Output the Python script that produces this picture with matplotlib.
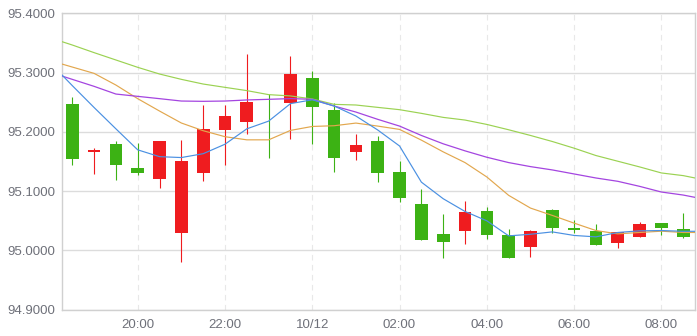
# Script: plot.py
# Half-hour candlestick chart with four moving average lines.

import matplotlib
matplotlib.use('Agg')
import matplotlib.pyplot as plt
import numpy as np

# Candle data, 18:30 to 08:30 (30 min bars)
opens = [95.2475, 95.1655, 95.1802, 95.1396, 95.1198, 95.0283, 95.1299, 95.2028,
         95.2164, 95.2300, 95.2486, 95.2904, 95.2362, 95.1655, 95.1836, 95.1328,
         95.0785, 95.0277, 95.0333, 95.0667, 95.0260, 95.0062, 95.0684, 95.0379,
         95.0328, 95.0130, 95.0232, 95.0463, 95.0362]
closes = [95.1537, 95.1684, 95.1435, 95.1299, 95.1836, 95.1514, 95.2040, 95.2260,
          95.2497, 95.2300, 95.2972, 95.2418, 95.1554, 95.1785, 95.1299, 95.0876,
          95.0181, 95.0147, 95.0650, 95.0266, 94.9876, 95.0328, 95.0384, 95.0350,
          95.0096, 95.0311, 95.0446, 95.0384, 95.0232]
highs = [95.2582, 95.1734, 95.1847, 95.1819, 95.1836, 95.1853, 95.2446, 95.2446,
         95.3311, 95.2633, 95.3277, 95.3023, 95.2492, 95.1955, 95.1921, 95.1514,
         95.1034, 95.0616, 95.0836, 95.0734, 95.0362, 95.0350, 95.0701, 95.0514,
         95.0446, 95.0311, 95.0480, 95.0463, 95.0633]
lows = [95.1435, 95.1282, 95.1181, 95.1266, 95.1045, 94.9808, 95.1164, 95.1435,
        95.1966, 95.1554, 95.1876, 95.1791, 95.1316, 95.1531, 95.1158, 95.0808,
        95.0181, 94.9876, 95.0113, 95.0198, 94.9876, 94.9893, 95.0288, 95.0299,
        95.0096, 95.0045, 95.0232, 95.0266, 95.0209]

# Moving averages, 18:00 to 09:00 (one bar either side of the visible window)
ma_blue = [95.316, 95.278, 95.241, 95.205, 95.1695, 95.158, 95.1565, 95.163, 95.179,
           95.205, 95.218, 95.2475, 95.254, 95.2435, 95.2266, 95.203, 95.176, 95.115,
           95.087, 95.0655, 95.0497, 95.0243, 95.027, 95.031, 95.025, 95.0226, 95.030,
           95.0328, 95.0333, 95.032, 95.032]
ma_purple = [95.3004, 95.2885, 95.2767, 95.2637, 95.2598, 95.2559, 95.2519, 95.2514,
             95.2519, 95.2537, 95.2548, 95.256, 95.2548, 95.2435, 95.2333, 95.221,
             95.2096, 95.1938, 95.1797, 95.1678, 95.157, 95.148, 95.1412, 95.1356,
             95.1288, 95.122, 95.1164, 95.1079, 95.0983, 95.0932, 95.086]
ma_orange = [95.320, 95.3093, 95.2986, 95.2789, 95.2559, 95.235, 95.2148, 95.2018,
             95.1917, 95.1864, 95.1864, 95.2023, 95.209, 95.2102, 95.2147, 95.2096,
             95.204, 95.1859, 95.1661, 95.148, 95.1237, 95.0927, 95.0712, 95.0588,
             95.0458, 95.0333, 95.0277, 95.030, 95.0322, 95.030, 95.030]
ma_green = [95.3584, 95.3465, 95.3336, 95.3212, 95.3088, 95.2975, 95.2885, 95.2806,
            95.275, 95.2695, 95.2627, 95.2605, 95.2554, 95.2463, 95.2452, 95.2412,
            95.2373, 95.2311, 95.2243, 95.2198, 95.2124, 95.2034, 95.1938, 95.1836,
            95.1723, 95.1599, 95.1503, 95.1407, 95.1305, 95.126, 95.1186]

tick_pos = [3, 7, 11, 15, 19, 23, 27]
tick_labels = ['20:00', '22:00', '10/12', '02:00', '04:00', '06:00', '08:00']
y_ticks = [94.9, 95.0, 95.1, 95.2, 95.3, 95.4]

up_color = '#ef1c1f'
down_color = '#3cb214'
grid_color = '#dcdcdc'
label_color = '#6e7079'

plt.rcParams['font.family'] = ['Liberation Sans', 'DejaVu Sans']

fig = plt.figure(figsize=(6.97, 3.36), dpi=100)
ax = fig.add_axes([62 / 697, 26.5 / 336, 633 / 697, 296.2 / 336])

x = np.arange(len(opens))

# Candle colours: red up, green down, ties use previous close
colors = []
for i in range(len(opens)):
    if closes[i] > opens[i]:
        colors.append(up_color)
    elif closes[i] < opens[i]:
        colors.append(down_color)
    elif i > 0 and closes[i] >= closes[i - 1]:
        colors.append(up_color)
    else:
        colors.append(down_color)

bottoms = np.minimum(opens, closes)
heights = np.abs(np.array(closes) - np.array(opens))

ax.vlines(x, lows, highs, colors=colors, linewidth=0.8, zorder=3)
ax.bar(x, heights, bottom=bottoms, width=0.58, color=colors, linewidth=0, zorder=4)

# MA lines
xm = np.arange(-1, len(ma_blue) - 1)
ax.plot(xm, ma_green, color='#9bd252', linewidth=0.85, zorder=5)
ax.plot(xm, ma_orange, color='#e2a74e', linewidth=0.85, zorder=5)
ax.plot(xm, ma_purple, color='#a445e0', linewidth=0.9, zorder=5)
ax.plot(xm, ma_blue, color='#4a90e2', linewidth=0.85, zorder=5)

ax.set_xlim(-0.47, 28.54)
ax.set_ylim(94.9, 95.4)

ax.set_yticks(y_ticks)
ax.set_yticklabels([f'{v:.4f}' for v in y_ticks])
ax.set_xticks(tick_pos)
ax.set_xticklabels(tick_labels)

ax.yaxis.grid(True, color=grid_color, linewidth=1.0, zorder=0)
for p in tick_pos:
    ax.axvline(p, color='#e8e8e8', linewidth=0.8, linestyle=(0, (5, 4)), zorder=0)

for side in ['left', 'bottom', 'right', 'top']:
    ax.spines[side].set_color('#d0d0d0')
    ax.spines[side].set_linewidth(1.0)

ax.tick_params(axis='both', length=0, labelsize=9.5, labelcolor=label_color)
ax.tick_params(axis='y', pad=5)
ax.tick_params(axis='x', pad=7)

plt.savefig('out.png', dpi=100)
plt.close()
